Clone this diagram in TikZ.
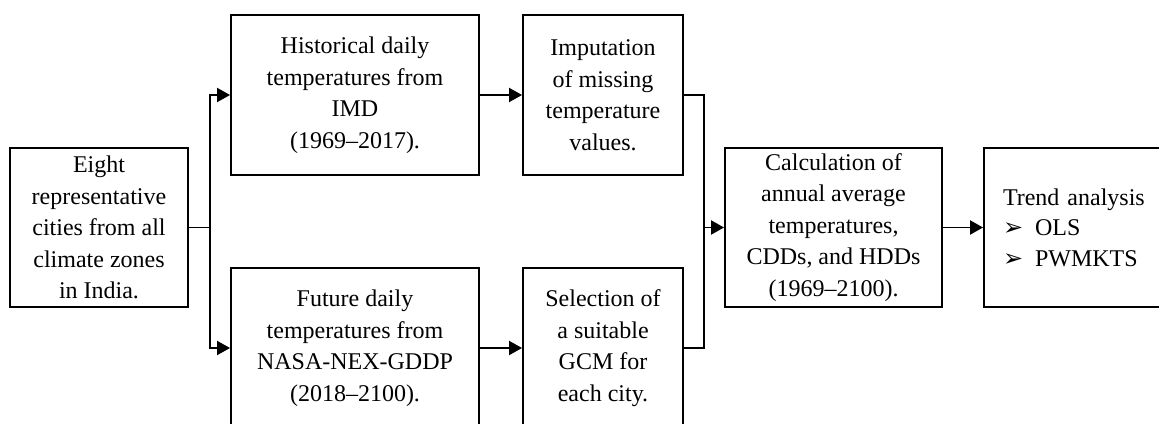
\documentclass[tikz,border=0pt]{standalone}
\usepackage{fontspec}
\setmainfont{Liberation Serif}
\newfontfamily\dejavu{DejaVu Sans}
\usetikzlibrary{arrows.meta}
\newcommand{\bul}{\makebox[32pt][l]{\raisebox{0pt}{\dejavu\fontsize{24}{24}\selectfont ➢}}}
\begin{document}
\begin{tikzpicture}[x=1pt,y=-1pt,
  box/.style={draw=black,line width=1.9pt,align=center,inner sep=0pt,
    font=\fontsize{24}{31.5}\selectfont},
  conn/.style={line width=1.9pt},
  arr/.style={conn,-{Triangle[length=13pt,width=14pt]}}]
\useasboundingbox (0,0) rectangle (1159,423);
\clip (0,0) rectangle (1159,423);
\node[box,minimum width=178pt,minimum height=159pt] (left) at (99,227.5)
  {Eight\\representative\\cities from all\\climate zones\\in India.};
\node[box,minimum width=248pt,minimum height=160pt] (hist) at (355,95)
  {Historical daily\\temperatures from\\IMD\\(1969–2017).};
\node[box,minimum width=248pt,minimum height=160pt] (fut) at (355,348)
  {Future daily\\temperatures from\\NASA-NEX-GDDP\\(2018–2100).};
\node[box,minimum width=160pt,minimum height=160pt] (imp) at (603,95)
  {Imputation\\of missing\\temperature\\values.};
\node[box,minimum width=160pt,minimum height=160pt] (sel) at (603,348)
  {Selection of\\a suitable\\GCM for\\each city.};
\node[box,minimum width=217pt,minimum height=159pt] (calc) at (833.5,227.5)
  {Calculation of\\annual average\\temperatures,\\CDDs, and HDDs\\(1969–2100).};
\node[box,align=left,text width=150pt,inner xsep=19pt,minimum height=159pt,
  font=\fontsize{24}{30.5}\selectfont] (trend) at (1078,227.5)
  {Trend analysis\\\bul OLS\\\bul PWMKTS};
\coordinate (split) at (210,227.5);
\coordinate (merge) at (704,227.5);
\draw[conn] (left.east) -- (split);
\draw[arr] (split) |- (hist.west);
\draw[arr] (split) |- (fut.west);
\draw[arr] (hist.east) -- (imp.west);
\draw[arr] (fut.east) -- (sel.west);
\draw[conn] (imp.east) -| (merge) |- (sel.east);
\draw[arr] (merge) -- (calc.west);
\draw[arr] (calc.east) -- (trend.west);
\end{tikzpicture}
\end{document}
